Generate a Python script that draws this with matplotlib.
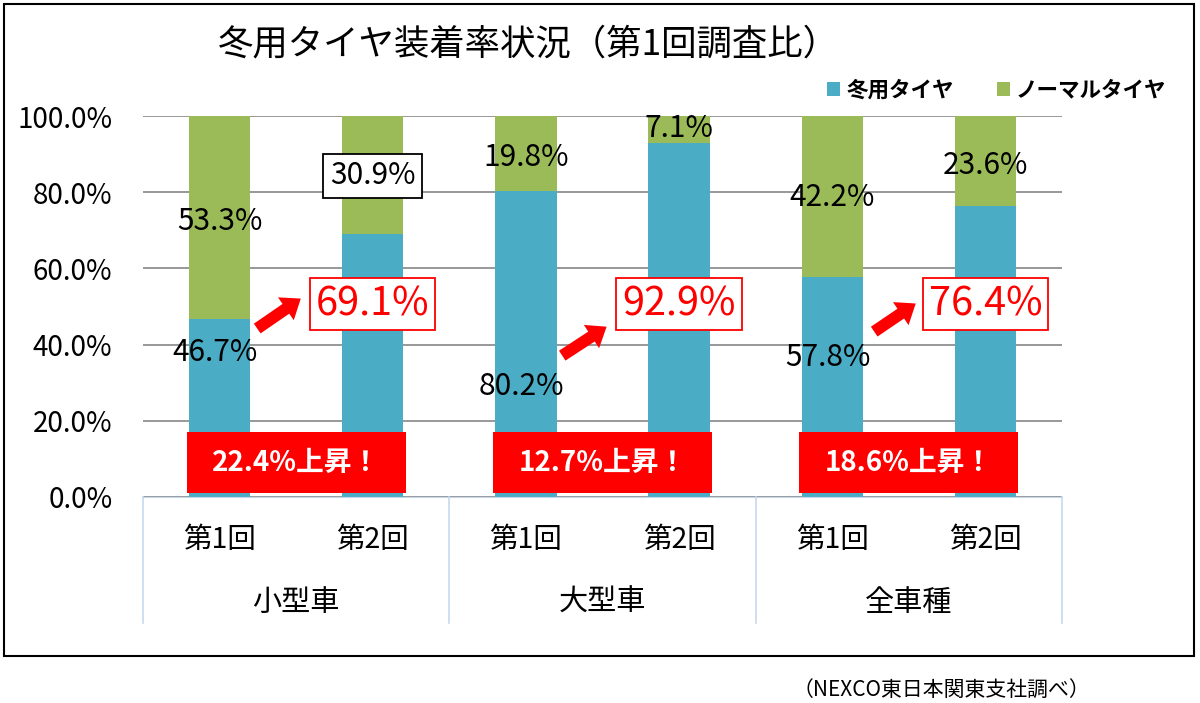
import matplotlib
matplotlib.use("Agg")
import matplotlib.pyplot as plt
from matplotlib.patches import Rectangle, FancyArrowPatch
from matplotlib.transforms import blended_transform_factory

plt.rcParams['font.family'] = ['Noto Sans CJK JP', 'DejaVu Sans']

# data
groups = ['小型車', '大型車', '全車種']
rounds = ['第1回', '第2回']
winter = [46.7, 69.1, 80.2, 92.9, 57.8, 76.4]
normal = [53.3, 30.9, 19.8, 7.1, 42.2, 23.6]
rise = ['22.4%上昇！', '12.7%上昇！', '18.6%上昇！']
series_names = ['冬用タイヤ', 'ノーマルタイヤ']
yticks = [0, 20, 40, 60, 80, 100]

# where the labels sit (y in %)
winter_lab_y = [38.0, None, 28.9, None, 36.7, None]
normal_lab_y = [72.2, 84.3, 89.2, 96.6, 78.7, 87.1]
rise_lab_y = 50.6

blue = '#4BACC6'
green = '#9BBB59'
red = '#FF0000'
axis_blue = '#C6D9EC'

fig = plt.figure(figsize=(12, 7.03), dpi=100)
ax = fig.add_axes([143/1200, 1-497/703, (1062-143)/1200, 381/703])

x = list(range(len(winter)))
b1 = ax.bar(x, winter, width=0.4, color=blue, zorder=2, label=series_names[0])
b2 = ax.bar(x, normal, width=0.4, bottom=winter, color=green, zorder=2, label=series_names[1])

ax.set_xlim(-0.5, len(winter) - 0.5)
ax.set_ylim(0, 100)
ax.set_yticks(yticks)
ax.set_yticklabels([f'{v:.1f}%' for v in yticks], fontsize=20)
ax.tick_params(axis='y', length=0, pad=22)
ax.yaxis.grid(True, color='#868686', linewidth=1.2, zorder=0)
ax.set_axisbelow(True)
for s in ['left', 'right', 'top']:
    ax.spines[s].set_visible(False)
ax.spines['bottom'].set_color(axis_blue)
ax.set_xticks([])

# two level category axis
tr = blended_transform_factory(ax.transData, ax.transAxes)
for i in range(len(groups) + 1):
    xb = -0.5 + 2 * i
    ax.plot([xb, xb], [0, -0.331], transform=tr, color=axis_blue, lw=1.2, clip_on=False)
for i, g in enumerate(groups):
    ax.text(2 * i + 0.5, -0.278, g, transform=tr, ha='center', va='center', fontsize=21)
    for j, r in enumerate(rounds):
        ax.text(2 * i + j, -0.113, r, transform=tr, ha='center', va='center', fontsize=20.5)

# data labels
for i in range(len(winter)):
    if winter_lab_y[i] is not None:
        ax.text(i - 0.03, winter_lab_y[i], f'{winter[i]:.1f}%', ha='center', va='center',
                fontsize=21.5, zorder=4)
    kw = {}
    if i == 1:
        kw['bbox'] = dict(boxstyle='square,pad=0.22', fc='white', ec='black', lw=1.3)
    ax.text(i, normal_lab_y[i], f'{normal[i]:.1f}%', ha='center', va='center',
            fontsize=21.5, zorder=4, **kw)

# highlighted second-round values, arrows and banners
arrows = [((0.231, 43.8), (0.545, 52.5)),
          ((2.222, 36.7), (2.542, 45.1)),
          ((4.259, 43.0), (4.560, 51.2))]
for k in range(len(groups)):
    i = 2 * k + 1
    ax.text(i, rise_lab_y, f'{winter[i]:.1f}%', ha='center', va='center', fontsize=28.5,
            color=red, zorder=5,
            bbox=dict(boxstyle='square,pad=0.15', fc='white', ec=red, lw=1.3))
    a = FancyArrowPatch(arrows[k][0], arrows[k][1],
                        arrowstyle='simple,head_width=20,head_length=13,tail_width=8.5',
                        mutation_scale=1, color=red, zorder=5, lw=0)
    ax.add_patch(a)
    ax.add_patch(Rectangle((2 * k + 0.5 - 0.715, 1.0), 1.43, 16.1, facecolor=red,
                           edgecolor='none', zorder=5))
    ax.text(2 * k + 0.5, 9.0, rise[k], ha='center', va='center', fontsize=20,
            fontweight='bold', color='white', zorder=6)

# legend
fig.legend(handles=[b1, b2], labels=series_names, loc='center right',
           bbox_to_anchor=(1186/1200, 1-90/703), ncol=2, frameon=False,
           prop={'size': 15.5, 'weight': 'bold'}, handlelength=0.6, handleheight=0.6,
           handletextpad=0.3, columnspacing=2.0)

fig.text(528/1200, 1-45/703, '冬用タイヤ装着率状況（第1回調査比）', ha='center', va='center',
         fontsize=25.5)
fig.text(1090/1200, 1-690/703, '（NEXCO東日本関東支社調べ）', ha='right', va='center',
         fontsize=15)

fig.add_artist(Rectangle((4/1200, 1-656/703), 1190/1200, 652/703, transform=fig.transFigure,
                         fill=False, edgecolor='black', lw=1.5))

fig.savefig('out.png', dpi=100)
